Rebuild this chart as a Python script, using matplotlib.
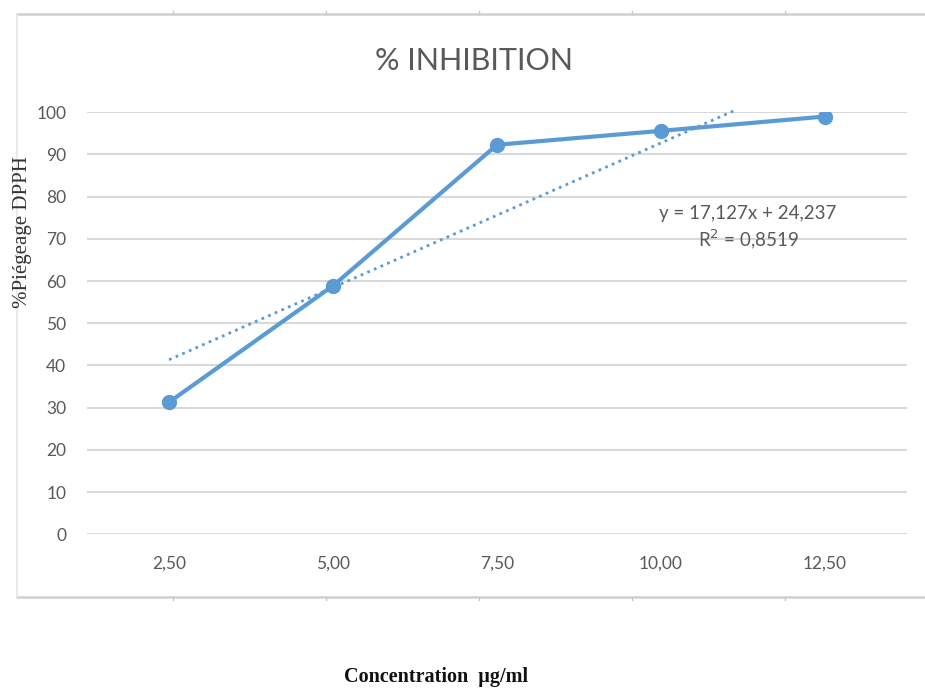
"""
Courbe % inhibition (piégeage DPPH) en fonction de la concentration,
avec la droite de tendance linéaire affichée par Excel.
"""

import matplotlib
matplotlib.use("Agg")
import matplotlib.pyplot as plt
from matplotlib.lines import Line2D

# Données
concentrations = ["2,50", "5,00", "7,50", "10,00", "12,50"]
inhibition = [31.3, 58.9, 92.3, 95.6, 99.0]
y_ticks = [0, 10, 20, 30, 40, 50, 60, 70, 80, 90, 100]

# Droite de tendance (coefficients affichés sur le graphique)
trend_slope = 17.127
trend_intercept = 24.237
trend_x_end = 4.44  # là où la droite sort de la zone de tracé
trend_label = "y = 17,127x + 24,237\nR$^2$ = 0,8519"

BLUE = "#5B9BD5"
GRID = "#D9D9D9"
TEXT = "#595959"

fig = plt.figure(figsize=(9.25, 6.88), dpi=100)
ax = fig.add_axes([0.0941, 0.2234, 0.8865, 0.6134])

x = list(range(1, len(concentrations) + 1))

# Courbe principale
ax.plot(x, inhibition, "o-", color=BLUE, linewidth=3, markersize=10, zorder=3)

# Tendance linéaire
tx = [1, trend_x_end]
ty = [trend_slope * v + trend_intercept for v in tx]
ax.plot(tx, ty, linestyle=(0, (1, 1.6)), color=BLUE, linewidth=2,
        clip_on=False, zorder=2)

ax.text(4.53, 72.6, trend_label, ha="center", va="center", color=TEXT,
        fontsize=13.5, family="Lato", linespacing=1.25)

ax.set_xlim(0.5, len(concentrations) + 0.5)
ax.set_ylim(0, 100)
ax.set_xticks(x)
ax.set_xticklabels(concentrations)
ax.set_yticks(y_ticks)

for s in ax.spines.values():
    s.set_visible(False)
ax.grid(True, axis="y", color=GRID, linewidth=1.5)
ax.set_axisbelow(True)
ax.tick_params(axis="both", length=0, labelsize=12.5, labelcolor=TEXT)
ax.tick_params(axis="x", pad=15)
ax.tick_params(axis="y", pad=15)
for lab in ax.get_xticklabels() + ax.get_yticklabels():
    lab.set_family("Lato")

# Titre et libellés d'axes
fig.text(0.512, 0.912, "% INHIBITION", ha="center", va="center",
         color=TEXT, fontsize=22, family="Lato")
fig.text(0.024, 0.663, "%Piégeage DPPH", rotation=90, ha="center",
         va="center", color="#333333", fontsize=15, family="Liberation Serif")
fig.text(0.471, 0.016, "Concentration  µg/ml", ha="center", va="center",
         color="#111111", fontsize=14.5, fontweight="bold",
         family="Liberation Serif")

# Cadre gris clair autour du graphique
top, bottom, left = 1 - 14 / 688, 1 - 597 / 688, 17 / 925
for yy in (top, bottom):
    fig.add_artist(Line2D([left, 1.0], [yy, yy], color="#D0D0D0", linewidth=1.8))
fig.add_artist(Line2D([left, left], [bottom, top], color="#E6E6E6", linewidth=1.2))
for px in (173, 326, 479, 632, 785):
    xx = px / 925
    fig.add_artist(Line2D([xx, xx], [top, top + 3 / 688], color="#C8C8C8", linewidth=1))
    fig.add_artist(Line2D([xx, xx], [bottom, bottom - 3 / 688], color="#C8C8C8", linewidth=1))

fig.savefig("out.png", dpi=100)
plt.close(fig)
